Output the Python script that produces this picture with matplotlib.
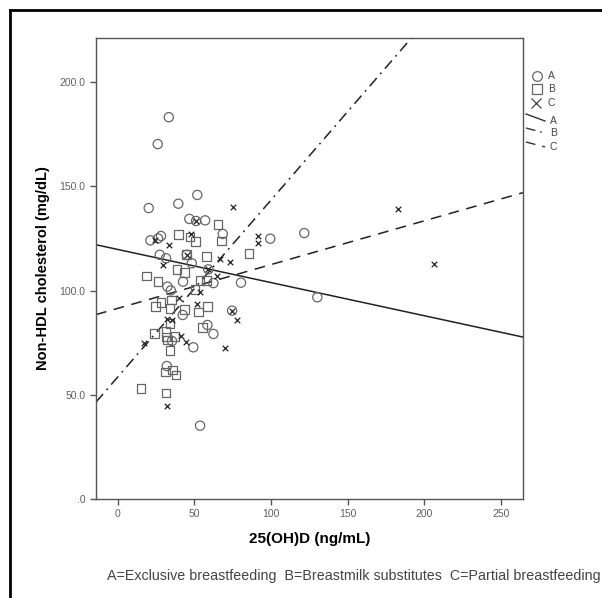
import matplotlib.pyplot as plt
from matplotlib.lines import Line2D

plt.rcParams['font.family'] = ['Liberation Sans', 'DejaVu Sans']

# group A: exclusive breastfeeding (circles)
a_x = [33.3, 26.1, 51.9, 39.5, 20.2, 46.7, 51.1, 57.0, 68.5, 99.5, 21.3, 26.3, 28.2,
       121.7, 80.4, 62.4, 130.2, 27.4, 31.5, 45.0, 48.3, 59.1, 42.6, 32.4, 34.6, 42.4,
       74.6, 58.5, 62.4, 35.4, 49.3, 32.0, 53.7]
a_y = [183.2, 170.3, 145.9, 141.7, 139.6, 134.4, 133.4, 133.7, 127.2, 124.9, 124.1, 125.0, 126.2,
       127.6, 103.8, 103.6, 96.8, 117.2, 115.5, 117.2, 113.1, 110.2, 104.3, 101.9, 100.1, 88.3,
       90.4, 83.5, 79.2, 75.8, 72.8, 63.8, 35.2]

# group B: breastmilk substitutes (squares)
b_x = [65.4, 39.5, 47.2, 50.6, 67.8, 85.6, 58.0, 58.0, 38.7, 43.7, 18.5, 26.3, 53.7,
       50.4, 35.2, 28.2, 24.8, 34.1, 43.4, 52.8, 58.7, 34.1, 55.2, 23.9, 31.5, 31.5,
       32.4, 37.4, 34.1, 31.0, 35.9, 38.0, 15.2, 31.5, 45.0]
b_y = [131.8, 126.8, 125.7, 123.5, 123.8, 117.9, 116.5, 105.0, 110.2, 108.8, 107.0, 104.5, 105.0,
       100.6, 95.5, 94.2, 92.3, 91.5, 91.0, 89.7, 92.3, 84.3, 82.2, 79.5, 80.3, 77.7,
       76.3, 77.9, 71.4, 60.9, 61.9, 59.5, 53.1, 50.9, 117.2]

# group C: partial breastfeeding (crosses)
c_x = [75.0, 47.8, 91.7, 91.7, 33.7, 183.0, 66.7, 73.3, 206.3, 64.6, 29.7, 53.7, 40.2,
       51.9, 77.6, 32.0, 35.4, 41.5, 44.6, 69.8, 17.2, 32.0, 51.1, 45.0, 59.1, 74.6, 24.5]
c_y = [140.1, 127.2, 126.2, 122.7, 121.7, 139.2, 115.3, 113.9, 112.9, 107.2, 112.3, 99.5, 96.3,
       93.6, 86.0, 86.2, 85.9, 78.4, 75.5, 72.5, 75.0, 44.8, 133.4, 117.2, 110.2, 90.4, 124.5]

# fit lines read at the left and right edge of the axis
fit_x = [-14.2, 264.4]
fit_a = [122.0, 77.7]
fit_b = [46.5, 283.0]
fit_c = [88.5, 147.0]

x_ticks = [0, 50, 100, 150, 200, 250]
y_ticks = [0, 50, 100, 150, 200]
y_tick_labels = ['.0', '50.0', '100.0', '150.0', '200.0']

W, H = 602, 598
fig = plt.figure(figsize=(W / 100, H / 100), dpi=100)
ax = fig.add_axes([96 / W, 1 - 499 / H, (523 - 96) / W, (499 - 38) / H])

grey = '#666666'
ax.scatter(a_x, a_y, marker='o', s=44, facecolors='none', edgecolors=grey, linewidths=0.9, zorder=3)
ax.scatter(b_x, b_y, marker='s', s=40, facecolors='none', edgecolors=grey, linewidths=0.9, zorder=3)
ax.scatter(c_x, c_y, marker='x', s=16, color='#222222', linewidths=0.9, zorder=3)

ax.plot(fit_x, fit_a, color='#222222', lw=1.1, zorder=2)
ax.plot(fit_x, fit_b, color='#222222', lw=1.1, dashes=(7, 3.5, 1.2, 3.5), zorder=2)
ax.plot(fit_x, fit_c, color='#222222', lw=1.1, dashes=(7, 5), zorder=2)

ax.set_xlim(fit_x[0], fit_x[1])
ax.set_ylim(0, 221.2)
ax.set_xticks(x_ticks)
ax.set_yticks(y_ticks)
ax.set_yticklabels(y_tick_labels)
ax.tick_params(direction='out', length=4, width=1, color='#555555', labelcolor='#606060', labelsize=7.5)
for s in ax.spines.values():
    s.set_color('#555555')
    s.set_linewidth(1)

ax.set_xlabel('25(OH)D (ng/mL)', fontsize=11, fontweight='bold', labelpad=9)
ax.set_ylabel('Non-HDL cholesterol (mg/dL)', fontsize=10.5, fontweight='bold', labelpad=7)


def px(x, y):
    return x / W, 1 - y / H


# outer frame (left and top edges visible)
fig.add_artist(Line2D([px(10, 0)[0], px(10, 0)[0]], [px(0, 10)[1], 0], color='black', lw=2))
fig.add_artist(Line2D([px(10, 0)[0], 1], [px(0, 10)[1], px(0, 10)[1]], color='black', lw=2))

# legend drawn SPSS style at the right of the plot
leg_labels = ['A', 'B', 'C']
mk_y = [76, 89, 103]
fig.add_artist(Line2D([px(537, 0)[0]], [px(0, mk_y[0])[1]], marker='o', ms=7, mfc='none', mec=grey, mew=0.9, ls='none'))
fig.add_artist(Line2D([px(537, 0)[0]], [px(0, mk_y[1])[1]], marker='s', ms=6.5, mfc='none', mec=grey, mew=0.9, ls='none'))
fig.add_artist(Line2D([px(536, 0)[0]], [px(0, mk_y[2])[1]], marker='x', ms=7, color='#444444', mew=0.9, ls='none'))
for lab, y in zip(leg_labels, mk_y):
    fig.text(*px(548, y), lab, fontsize=7.5, color='#444444', va='center')

line_y = [(114, 121), (128, 133), (142, 147)]
line_styles = [dict(), dict(dashes=(7, 3.5, 1.2, 3.5)), dict(dashes=(7, 5))]
for lab, (y0, y1), st in zip(leg_labels, line_y, line_styles):
    x0, yy0 = px(526, y0)
    x1, yy1 = px(545, y1)
    fig.add_artist(Line2D([x0, x1], [yy0, yy1], color='#333333', lw=1, **st))
    fig.text(*px(550, y1), lab, fontsize=7.5, color='#444444', va='center')

fig.text(*px(107, 576), 'A=Exclusive breastfeeding  B=Breastmilk substitutes  C=Partial breastfeeding',
         fontsize=10.3, color='#444444', va='center')

fig.savefig('out.png', dpi=100)
